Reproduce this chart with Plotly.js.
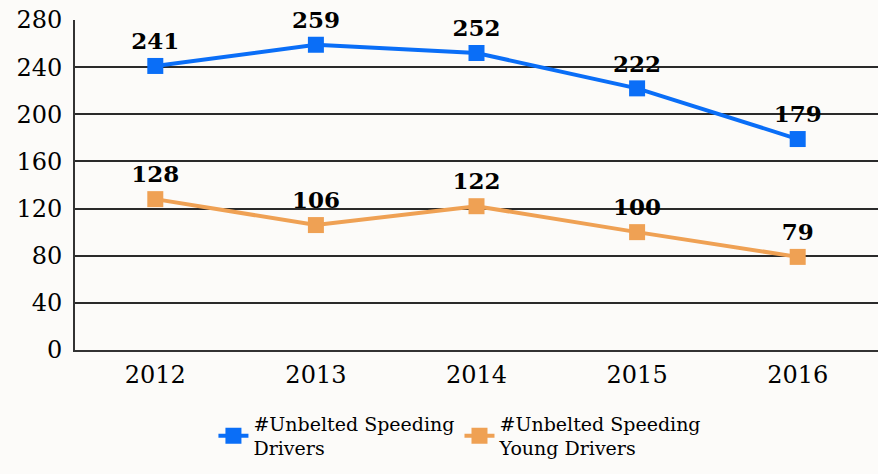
<!DOCTYPE html>
<html><head><meta charset="utf-8">
<script src="https://cdn.plot.ly/plotly-3.0.1.min.js"></script>
<style>body{margin:0;background:#FCFBF9}</style>
</head><body><div id="c" style="width:878px;height:474px"></div>
<script>
const years = ['2012','2013','2014','2015','2016'];
const allDrivers = [241,259,252,222,179];
const youngDrivers = [128,106,122,100,79];
const seriesNames = ['#Unbelted Speeding<br>Drivers','#Unbelted Speeding<br>Young Drivers'];
const font = 'DejaVu Serif, serif';
function tr(y, name, color){
  return {x: years, y: y, name: name, type:'scatter', mode:'lines+markers+text',
    text: y.map(String), textposition:'top center', cliponaxis:false,
    textfont:{family:font, size:23, color:'#000', weight:'bold'},
    line:{color:color, width:4}, marker:{symbol:'square', size:16, color:color}};
}
Plotly.newPlot('c',[tr(allDrivers,seriesNames[0],'#0A6EF7'),tr(youngDrivers,seriesNames[1],'#EFA154')],{
  width:878,height:474,
  paper_bgcolor:'#FCFBF9', plot_bgcolor:'#FCFBF9',
  margin:{l:75,r:0,t:20,b:124},
  font:{family:font,size:24,color:'#000'},
  xaxis:{type:'category', range:[-0.5,4.5], showgrid:false, showline:true, linecolor:'#333', linewidth:2, ticks:'', tickfont:{size:24}, ticklabelstandoff:2},
  yaxis:{range:[0,280], dtick:40, tick0:0, showgrid:true, gridcolor:'#2a2a2a', gridwidth:1.6, showline:true, linecolor:'#333', linewidth:2, ticks:'', zeroline:false, tickfont:{size:24}, ticklabelstandoff:6},
  showlegend:true,
  legend:{orientation:'h', x:0.48, xanchor:'center', y:-0.165, yanchor:'top', font:{size:19, family:font}, itemwidth:30, bgcolor:'rgba(0,0,0,0)'}
},{displayModeBar:false});
</script></body></html>
